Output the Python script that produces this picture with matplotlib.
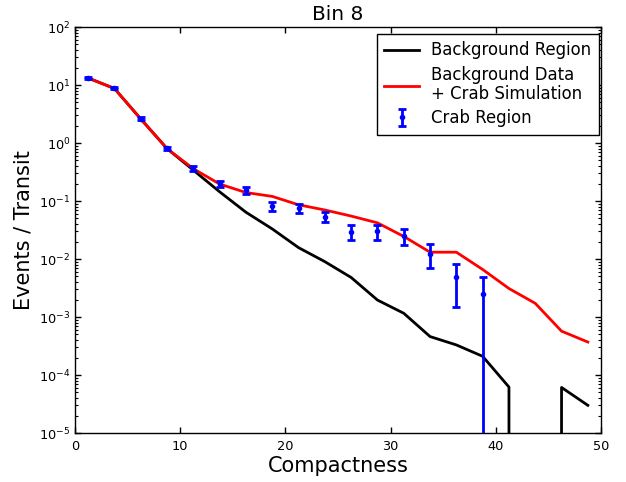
import numpy as np
import matplotlib
matplotlib.use("Agg")
import matplotlib.pyplot as plt

# ---- data ----
bin_centers = [1.25, 3.75, 6.25, 8.75, 11.25, 13.75, 16.25, 18.75, 21.25, 23.75,
               26.25, 28.75, 31.25, 33.75, 36.25, 38.75, 41.25, 43.75, 46.25, 48.75]
background_region = [13.2, 8.7, 2.6, 0.80, 0.34, 0.144, 0.064, 0.033, 0.0157, 0.0090,
                     0.0048, 0.00196, 0.00116, 0.00046, 0.00033, 0.00021, 6.2e-5, 0.0,
                     6.1e-5, 3.0e-5]
bkg_plus_crab = [13.2, 8.7, 2.6, 0.80, 0.36, 0.196, 0.14, 0.12, 0.086, 0.070,
                 0.055, 0.042, 0.0245, 0.0131, 0.0131, 0.0066, 0.0031, 0.00172,
                 0.00057, 0.00037]
crab_x = bin_centers[:16]
crab_region = [13.2, 8.77, 2.62, 0.81, 0.366, 0.199, 0.155, 0.082, 0.075, 0.054,
               0.0295, 0.030, 0.025, 0.0124, 0.0049, 0.00245]
crab_err = [0.5, 0.4, 0.15, 0.06, 0.04, 0.025, 0.021, 0.015, 0.013, 0.011,
            0.0086, 0.0085, 0.0077, 0.0054, 0.0034, 0.00245]

title = "Bin 8"
xlabel = "Compactness"
ylabel = "Events / Transit"
labels = ["Background Region", "Background Data\n+ Crab Simulation", "Crab Region"]

plt.rcParams['axes.unicode_minus'] = False
plt.rcParams['font.family'] = ['DejaVu Sans']

fig = plt.figure(figsize=(6.26, 4.82), dpi=100)
ax = fig.add_axes([75/626, 1-433/482, (601-75)/626, (433-27)/482])

l1, = ax.plot(bin_centers, background_region, color='k', lw=2)
l2, = ax.plot(bin_centers, bkg_plus_crab, color='r', lw=2)
eb = ax.errorbar(crab_x, crab_region, yerr=crab_err, fmt='o', color='b', ms=3,
                 elinewidth=2, capsize=3.2, capthick=2, zorder=5)

ax.set_yscale('log', nonpositive='clip')
ax.set_xlim(0, 50)
ax.set_ylim(1e-5, 1e2)
ax.set_xticks([0, 10, 20, 30, 40, 50])

ax.tick_params(which='both', direction='in', top=True, right=True, labelsize=9.3)
ax.tick_params(which='major', length=4, width=1)
ax.tick_params(which='minor', length=2, width=0.8)
ax.tick_params(axis='x', pad=5)
for s in ax.spines.values():
    s.set_linewidth(1.0)

ax.set_title(title, fontsize=14.5, pad=5)
ax.set_xlabel(xlabel, fontsize=15, labelpad=2)
ax.set_ylabel(ylabel, fontsize=15, labelpad=4)

leg = ax.legend([l1, l2, eb], labels, loc='upper right',
                bbox_to_anchor=(0.996, 0.983), borderaxespad=0,
                fontsize=11.9, fancybox=False, framealpha=1, edgecolor='k',
                handlelength=2.1, handletextpad=0.75, labelspacing=0.4,
                borderpad=0.45)
for t in leg.get_texts():
    t.set_linespacing(1.05)
leg.get_frame().set_linewidth(1.0)

fig.savefig("out.png", dpi=100)
